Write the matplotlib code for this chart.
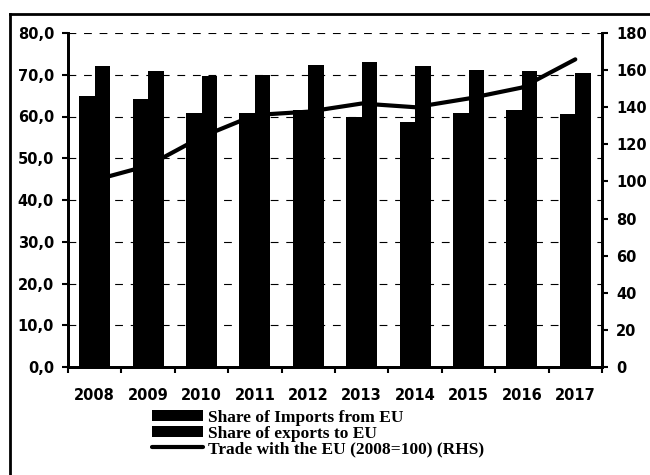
import matplotlib
matplotlib.use("Agg")
import matplotlib.pyplot as plt
import numpy as np
from matplotlib.lines import Line2D

years = ["2008", "2009", "2010", "2011", "2012", "2013", "2014", "2015", "2016", "2017"]
imports_share = [65.0, 64.1, 60.9, 60.8, 61.5, 59.8, 58.7, 60.8, 61.6, 60.6]
exports_share = [72.1, 71.0, 69.7, 70.0, 72.4, 73.1, 72.0, 71.1, 70.9, 70.5]
trade_index = [100.7, 108.5, 124.0, 135.8, 137.6, 142.0, 140.0, 144.7, 150.6, 165.8]

left_ticks = [0, 10, 20, 30, 40, 50, 60, 70, 80]
left_labels = ["0,0", "10,0", "20,0", "30,0", "40,0", "50,0", "60,0", "70,0", "80,0"]
right_ticks = [0, 20, 40, 60, 80, 100, 120, 140, 160, 180]

fig = plt.figure(figsize=(6.5, 4.75), dpi=100)
ax = fig.add_axes([68/650, 1-367/475, (602-68)/650, (367-33)/475])

x = np.arange(len(years))
w = 0.29
ax.bar(x - w/2, imports_share, width=w, color="black", zorder=2, label="Share of Imports from EU")
ax.bar(x + w/2, exports_share, width=w, color="black", zorder=2, label="Share of exports to EU")

ax.set_xlim(-0.5, len(years) - 0.5)
ax.set_ylim(0, 80)
ax.set_yticks(left_ticks)
ax.set_yticklabels(left_labels)
for yv in left_ticks[1:]:
    ax.axhline(yv, color="black", lw=0.8, ls=(0, (7, 7)), zorder=1)

ax.set_xticks(x)
ax.set_xticklabels(years)
ax.set_xticks(np.arange(-0.5, len(years)), minor=True)
ax.tick_params(axis="x", which="major", length=0, pad=15)
ax.tick_params(axis="x", which="minor", length=4, width=1.5, direction="out")
ax.tick_params(axis="y", length=4, width=1.5, direction="out", pad=6)

ax2 = ax.twinx()
ax2.plot(x, trade_index, color="black", lw=3, zorder=3, solid_capstyle="round",
         label="Trade with the EU (2008=100) (RHS)")
ax2.set_ylim(0, 180)
ax2.set_yticks(right_ticks)
ax2.tick_params(axis="y", length=4, width=1.5, direction="out", pad=6)

for a in (ax, ax2):
    a.spines["top"].set_visible(False)
    for s in ("left", "right", "bottom"):
        a.spines[s].set_linewidth(2)

for lab in ax.get_yticklabels() + ax.get_xticklabels() + ax2.get_yticklabels():
    lab.set_fontfamily("DejaVu Sans")
    lab.set_fontweight("bold")
    lab.set_fontsize(10.5)

h1, l1 = ax.get_legend_handles_labels()
h2, l2 = ax2.get_legend_handles_labels()
leg = fig.legend(h1 + h2, l1 + l2, loc="upper left",
                 bbox_to_anchor=(152/650, 1-410/475), frameon=False,
                 prop=dict(family="Liberation Serif", weight="bold", size=12.5),
                 labelspacing=-0.02, handlelength=2.95, handleheight=0.6,
                 handletextpad=0.25, borderaxespad=0, borderpad=0)

# outer frame
fig.add_artist(Line2D([10/650, 1.0], [1-14/475, 1-14/475], color="black", lw=2, transform=fig.transFigure))
fig.add_artist(Line2D([10/650, 10/650], [1-14/475, 0.0], color="black", lw=2, transform=fig.transFigure))

fig.savefig("out.png", dpi=100)
